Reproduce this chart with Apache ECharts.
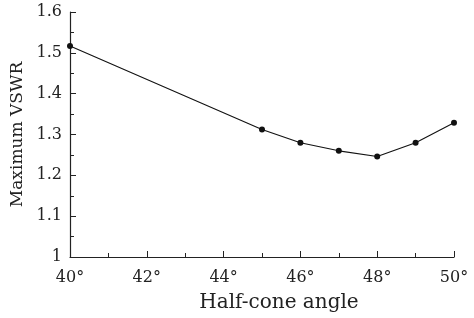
<!DOCTYPE html>
<html><head><meta charset="utf-8">
<script src="https://cdn.jsdelivr.net/npm/echarts@6/dist/echarts.min.js"></script>
<style>html,body{margin:0;padding:0;background:#fff}#c{width:474px;height:318px}</style>
</head><body><div id="c"></div>
<script>
const angles = [40, 45, 46, 47, 48, 49, 50];
const vswr = [1.517, 1.312, 1.280, 1.260, 1.246, 1.280, 1.329];
const xTicks = [40, 42, 44, 46, 48, 50];
const yTicks = [1, 1.1, 1.2, 1.3, 1.4, 1.5, 1.6];

const font = 'DejaVu Serif';
const chart = echarts.init(document.getElementById('c'), null, {renderer: 'canvas'});
chart.setOption({
  animation: false,
  backgroundColor: '#fff',
  grid: {left: 70, right: 20, top: 12, bottom: 61},
  xAxis: {
    type: 'value', min: xTicks[0], max: xTicks[xTicks.length-1], interval: 2,
    name: 'Half-cone angle', nameLocation: 'middle', nameGap: 36,
    nameTextStyle: {fontFamily: font, fontSize: 20, color: '#222', padding: [0, 0, 0, 34]},
    axisLine: {show: true, lineStyle: {color: '#222', width: 1.2}},
    axisTick: {show: true, inside: true, length: 6, lineStyle: {color: '#222'}},
    minorTick: {show: true, splitNumber: 2, length: 4, lineStyle: {color: '#222'}},
    splitLine: {show: false},
    axisLabel: {fontFamily: font, fontSize: 16, color: '#222', margin: 13, formatter: v => v + '°'}
  },
  yAxis: {
    type: 'value', min: yTicks[0], max: yTicks[yTicks.length-1], interval: 0.1,
    name: 'Maximum VSWR', nameLocation: 'middle', nameGap: 43, nameRotate: 90,
    nameTextStyle: {fontFamily: font, fontSize: 17, color: '#222'},
    axisLine: {show: true, lineStyle: {color: '#222', width: 1.2}},
    axisTick: {show: true, inside: true, length: 6, lineStyle: {color: '#222'}},
    minorTick: {show: true, splitNumber: 2, length: 4, lineStyle: {color: '#222'}},
    splitLine: {show: false},
    axisLabel: {fontFamily: font, fontSize: 16, color: '#222', margin: 8,
      formatter: v => (Math.abs(v - 1) < 1e-9 ? '1' : v.toFixed(1))}
  },
  series: [{
    type: 'line',
    data: angles.map((a, i) => [a, vswr[i]]),
    symbol: 'circle', symbolSize: 6,
    lineStyle: {color: '#111', width: 1.1},
    itemStyle: {color: '#111'}
  }]
});
</script></body></html>
